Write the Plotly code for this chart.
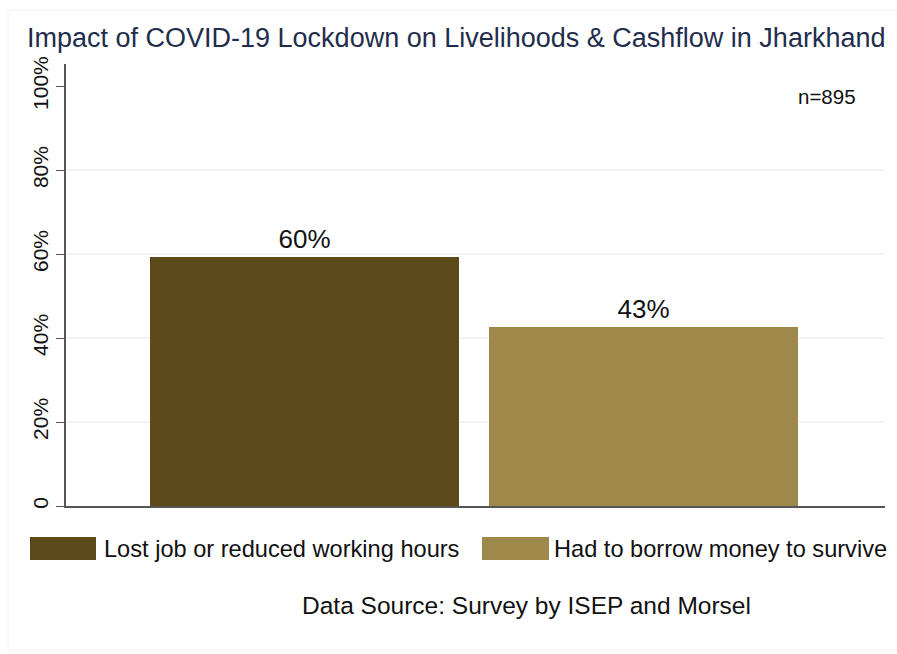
import plotly.graph_objects as go

series_names = ["Lost job or reduced working hours", "Had to borrow money to survive"]
values = [59.4, 42.6]
value_labels = ["60%", "43%"]
colors = ["#5C4A1A", "#9E894A"]
y_ticks = [0, 20, 40, 60, 80, 100]
y_tick_labels = ["0", "20%", "40%", "60%", "80%", "100%"]
grid_vals = [20, 40, 60, 80]

FONT = "Liberation Sans, Arial, Helvetica, sans-serif"

W, H = 897, 654
ML, MR, MT, MB = 66, 12, 64, 148
W_plot = W - ML - MR
H_plot = H - MT - MB


def px_x(x):
    return (x - ML) / W_plot


def px_y(y):
    return (H - MB - y) / H_plot


fig = go.Figure()
for i, (name, v, lab, c) in enumerate(zip(series_names, values, value_labels, colors)):
    fig.add_trace(go.Bar(
        x=[i], y=[v], name=name, width=0.912,
        marker=dict(color=c, line=dict(width=0)),
        text=[lab], textposition="outside", cliponaxis=False,
        textfont=dict(size=26, color="#111111", family=FONT),
        showlegend=False,
    ))

shapes = []
annotations = []
for g in grid_vals:
    shapes.append(dict(type="line", xref="paper", yref="y", x0=0, x1=1, y0=g, y1=g,
                       line=dict(color="#EAEDEF", width=1.2), layer="below"))

# legend drawn as keys + labels
legend_boxes = [(30, 96), (482, 549)]
legend_text_x = [102, 552]
for (b0, b1), tx, name, c in zip(legend_boxes, legend_text_x, series_names, colors):
    shapes.append(dict(type="rect", xref="paper", yref="paper",
                       x0=px_x(b0), x1=px_x(b1), y0=px_y(560), y1=px_y(537),
                       line=dict(width=0), fillcolor=c))
    annotations.append(dict(xref="paper", yref="paper", x=px_x(tx), y=px_y(549),
                            text=name, showarrow=False, xanchor="left", yanchor="middle",
                            font=dict(size=23.6, color="#111111", family=FONT)))

annotations.append(dict(xref="paper", yref="paper", x=px_x(526), y=px_y(605),
                        text="Data Source: Survey by ISEP and Morsel", showarrow=False,
                        xanchor="center", yanchor="middle",
                        font=dict(size=24.5, color="#111111", family=FONT)))
annotations.append(dict(xref="paper", yref="paper", x=px_x(858), y=px_y(97),
                        text="n=895", showarrow=False, xanchor="right", yanchor="middle",
                        font=dict(size=20.5, color="#111111", family=FONT)))
annotations.append(dict(xref="paper", yref="paper", x=px_x(25), y=px_y(38),
                        text="Impact of COVID-19 Lockdown on Livelihoods & Cashflow in Jharkhand",
                        showarrow=False, xanchor="left", yanchor="middle",
                        font=dict(size=27, color="#1F2D4D", family=FONT)))

# faint outer frame
shapes.append(dict(type="rect", xref="paper", yref="paper",
                   x0=px_x(8), x1=px_x(900), y0=px_y(650), y1=px_y(10),
                   line=dict(color="#F2F2F2", width=1), fillcolor="rgba(0,0,0,0)", layer="below"))

fig.update_layout(
    width=W, height=H,
    margin=dict(l=ML, r=MR, t=MT, b=MB),
    paper_bgcolor="white", plot_bgcolor="white",
    font=dict(family=FONT, color="#111111"),
    bargap=0,
    showlegend=False,
    xaxis=dict(range=[-0.7035, 1.712], showticklabels=False, ticks="",
               showgrid=False, zeroline=False, showline=True,
               linecolor="#555555", linewidth=1.5, fixedrange=True),
    yaxis=dict(range=[0, 105.3], tickvals=y_ticks, ticktext=y_tick_labels,
               tickangle=-90, ticks="outside", ticklen=8, tickcolor="#555555",
               tickfont=dict(size=21, color="#111111", family=FONT),
               showgrid=False, zeroline=False, showline=True,
               linecolor="#555555", linewidth=1.5),
    shapes=shapes, annotations=annotations,
)

fig.write_html("out.html")
